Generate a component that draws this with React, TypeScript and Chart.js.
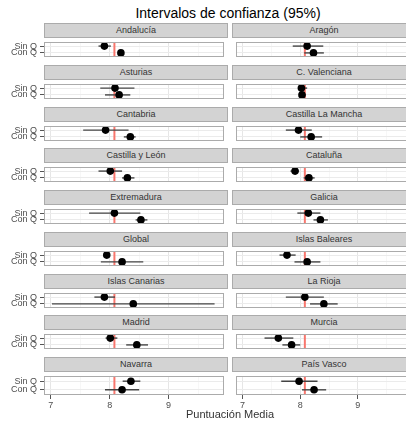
import React, { useEffect, useRef } from 'react';
import { Chart, registerables } from 'chart.js';

Chart.register(...registerables);
Chart.defaults.font.family = '"Liberation Sans", Arial, sans-serif';

// ---------- data ----------
const regions = [
  'Andalucía', 'Aragón',
  'Asturias', 'C. Valenciana',
  'Cantabria', 'Castilla La Mancha',
  'Castilla y León', 'Cataluña',
  'Extremadura', 'Galicia',
  'Global', 'Islas Baleares',
  'Islas Canarias', 'La Rioja',
  'Madrid', 'Murcia',
  'Navarra', 'País Vasco',
];
const groups = ['Sin Q', 'Con Q'];

const sinMean = [7.91, 8.12, 8.09, 8.02, 7.93, 7.97, 8.01, 7.91, 8.08, 8.14, 7.95, 7.77, 7.91, 8.08, 8.01, 7.62, 8.36, 7.98];
const sinLow = [7.81, 7.87, 7.84, 7.96, 7.55, 7.75, 7.81, 7.83, 7.65, 7.95, 7.90, 7.64, 7.74, 7.75, 7.93, 7.38, 8.22, 7.67];
const sinHigh = [8.02, 8.40, 8.42, 8.12, 8.32, 8.20, 8.21, 7.98, 8.52, 8.35, 8.00, 7.92, 8.09, 8.41, 8.13, 7.88, 8.52, 8.30];

const conMean = [8.19, 8.23, 8.16, 8.03, 8.35, 8.19, 8.30, 8.15, 8.53, 8.35, 8.21, 8.12, 8.40, 8.41, 8.46, 7.85, 8.21, 8.24];
const conLow = [8.14, 8.07, 7.92, 7.98, 8.24, 8.00, 8.21, 8.06, 8.44, 8.23, 7.85, 7.90, 7.02, 8.17, 8.28, 7.69, 7.92, 8.03];
const conHigh = [8.24, 8.41, 8.35, 8.10, 8.44, 8.38, 8.42, 8.25, 8.64, 8.48, 8.57, 8.35, 9.78, 8.65, 8.65, 8.00, 8.50, 8.45];

const referenceValue = 8.08;
const xTickValues = [7, 7.5, 8, 8.5, 9, 9.5];
const xMin = 6.885;
const xMax = 9.94;

// ---------- layout ----------
const NCOLS = 2;
const NROWS = Math.ceil(regions.length / NCOLS);
const PLOT_LEFT = [44, 232];
const PLOT_W = 184;
const STRIP_TOP0 = 23;
const PITCH = 41.75;
const STRIP_H = 15;
const PLOT_H = 23;
const Y_AXIS_W = 44;
const X_AXIS_H = 20;

const panelBorder = {
  id: 'panelBorder',
  afterDraw(chart: any) {
    const { ctx, chartArea } = chart;
    const { left, top, width, height } = chartArea;
    ctx.save();
    ctx.strokeStyle = '#ababab';
    ctx.lineWidth = 1;
    ctx.strokeRect(left + 0.5, top + 0.5, width - 1, height - 1);
    ctx.restore();
  },
};

function Panel({ index }: { index: number }) {
  const ref = useRef<HTMLCanvasElement>(null);
  const col = index % NCOLS;
  const row = Math.floor(index / NCOLS);
  const isLeft = col === 0;
  const isBottom = row === NROWS - 1;
  const plotLeft = PLOT_LEFT[col];
  const stripTop = Math.round(STRIP_TOP0 + row * PITCH);
  const plotTop = stripTop + STRIP_H;
  const canvasLeft = isLeft ? plotLeft - Y_AXIS_W : plotLeft;
  const canvasW = PLOT_W + (isLeft ? Y_AXIS_W : 0);
  const canvasH = PLOT_H + (isBottom ? X_AXIS_H : 0);

  useEffect(() => {
    if (!ref.current) return;
    const chart = new Chart(ref.current, {
      type: 'scatter',
      data: {
        datasets: [
          {
            type: 'scatter',
            data: [
              { x: sinMean[index], y: 1 },
              { x: conMean[index], y: 0 },
            ],
            pointRadius: 3.8,
            pointBackgroundColor: '#000000',
            pointBorderColor: '#000000',
            pointBorderWidth: 0,
            order: 0,
          },
          {
            type: 'line',
            data: [
              { x: sinLow[index], y: 1 },
              { x: sinHigh[index], y: 1 },
            ],
            borderColor: '#444444',
            borderWidth: 1.4,
            pointRadius: 0,
            order: 1,
          },
          {
            type: 'line',
            data: [
              { x: conLow[index], y: 0 },
              { x: conHigh[index], y: 0 },
            ],
            borderColor: '#444444',
            borderWidth: 1.4,
            pointRadius: 0,
            order: 1,
          },
          {
            type: 'line',
            data: [
              { x: referenceValue, y: -0.6 },
              { x: referenceValue, y: 1.6 },
            ],
            borderColor: '#f8766d',
            borderWidth: 2,
            pointRadius: 0,
            order: 2,
          },
        ] as any,
      },
      options: {
        animation: false,
        responsive: true,
        maintainAspectRatio: false,
        events: [],
        layout: { padding: 0 },
        plugins: {
          legend: { display: false },
          tooltip: { enabled: false },
          title: { display: false },
        },
        scales: {
          x: {
            type: 'linear',
            min: xMin,
            max: xMax,
            afterBuildTicks: (s: any) => {
              s.ticks = xTickValues.map((v) => ({ value: v }));
            },
            afterFit: (s: any) => {
              s.height = isBottom ? X_AXIS_H : 0;
              s.paddingLeft = 0;
              s.paddingRight = 0;
              s.paddingTop = 0;
              s.paddingBottom = 0;
            },
            ticks: {
              display: isBottom,
              autoSkip: false,
              maxRotation: 0,
              padding: 1,
              color: '#4d4d4d',
              font: { size: 9 },
              callback: (v: any) => (Number.isInteger(v) ? String(v) : ''),
            },
            grid: {
              color: (ctx: any) =>
                ctx.tick && Number.isInteger(ctx.tick.value) ? '#e6e6e6' : '#f3f3f3',
              lineWidth: (ctx: any) =>
                ctx.tick && Number.isInteger(ctx.tick.value) ? 1 : 0.7,
              drawTicks: isBottom,
              tickLength: 4,
              tickColor: (ctx: any) =>
                ctx.tick && Number.isInteger(ctx.tick.value) ? '#555555' : 'rgba(0,0,0,0)',
            },
            border: { display: false },
          },
          y: {
            type: 'linear',
            min: -0.6,
            max: 1.6,
            afterBuildTicks: (s: any) => {
              s.ticks = [{ value: 0 }, { value: 1 }];
            },
            afterFit: (s: any) => {
              s.width = isLeft ? Y_AXIS_W : 0;
              s.paddingLeft = 0;
              s.paddingRight = 0;
              s.paddingTop = 0;
              s.paddingBottom = 0;
            },
            ticks: {
              display: isLeft,
              autoSkip: false,
              padding: 3,
              color: '#4d4d4d',
              font: { size: 9 },
              callback: (v: any) => groups[1 - Number(v)],
            },
            grid: {
              color: '#ebebeb',
              lineWidth: 1,
              drawTicks: isLeft,
              tickLength: 4,
              tickColor: '#555555',
            },
            border: { display: false },
          },
        },
      } as any,
      plugins: [panelBorder],
    });
    return () => chart.destroy();
  }, [index]);

  return (
    <>
      <div
        style={{
          position: 'absolute',
          left: plotLeft,
          top: stripTop,
          width: PLOT_W,
          height: STRIP_H,
          boxSizing: 'border-box',
          border: '1px solid #ababab',
          background: '#d3d3d3',
          color: '#333333',
          fontFamily: '"Liberation Sans", Arial, sans-serif',
          fontSize: 9,
          lineHeight: `${STRIP_H - 2}px`,
          textAlign: 'center',
          whiteSpace: 'nowrap',
        }}
      >
        {regions[index]}
      </div>
      <div
        style={{
          position: 'absolute',
          left: canvasLeft,
          top: plotTop,
          width: canvasW,
          height: canvasH,
        }}
      >
        <canvas ref={ref} />
      </div>
    </>
  );
}

export default function App() {
  return (
    <div
      style={{
        position: 'absolute',
        left: 0,
        top: 0,
        width: 406,
        height: 422,
        overflow: 'hidden',
        background: '#ffffff',
        fontFamily: '"Liberation Sans", Arial, sans-serif',
      }}
    >
      <div
        style={{
          position: 'absolute',
          left: 44,
          top: 5,
          width: 368,
          textAlign: 'center',
          fontSize: 14,
          color: '#000000',
          whiteSpace: 'nowrap',
        }}
      >
        Intervalos de confianza (95%)
      </div>
      {regions.map((_, i) => (
        <Panel key={i} index={i} />
      ))}
      <div
        style={{
          position: 'absolute',
          left: 44,
          top: 408,
          width: 372,
          textAlign: 'center',
          fontSize: 11,
          color: '#333333',
          whiteSpace: 'nowrap',
        }}
      >
        Puntuación Media
      </div>
    </div>
  );
}
